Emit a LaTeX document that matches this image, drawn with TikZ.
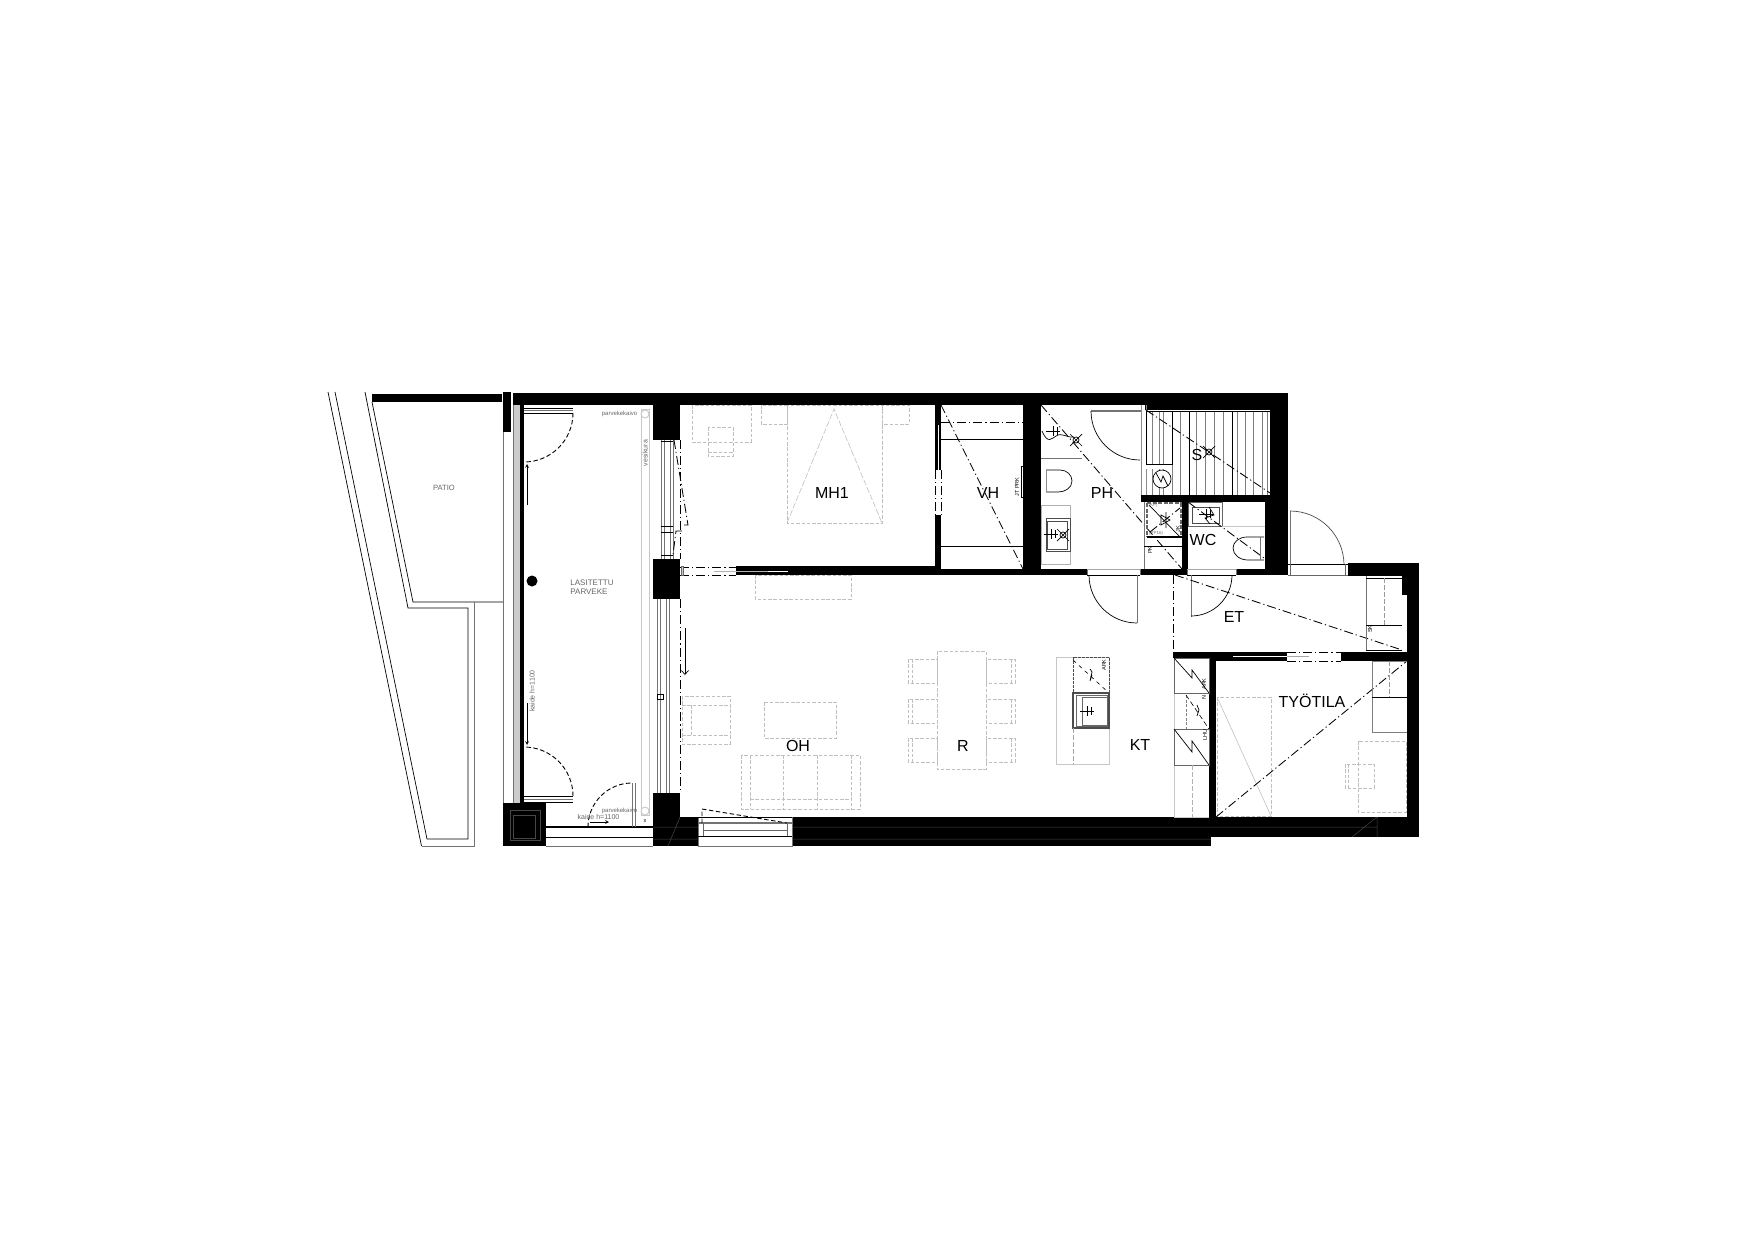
\documentclass[tikz,border=0pt]{standalone}
\usepackage{fontspec}
\setmainfont{Liberation Sans}
\usetikzlibrary{arrows.meta}
\tikzset{
  wall/.style={fill=black,draw=none},
  furn/.style={draw=black!25,line width=0.9pt,dash pattern=on 3.5pt off 1.8pt},
  swing/.style={draw=black,line width=0.9pt,dash pattern=on 4.5pt off 2.5pt},
  axisline/.style={draw=black,line width=0.85pt,dash pattern=on 9pt off 3pt on 1.2pt off 3pt},
  fine/.style={draw=black,line width=0.7pt},
  edge/.style={draw=black!55,line width=0.9pt},
  pale/.style={draw=black!22,line width=0.9pt},
  room/.style={font=\fontsize{16}{18}\selectfont,inner sep=0pt},
  note/.style={font=\fontsize{7}{8}\selectfont,text=black!60,inner sep=0pt},
  mini/.style={font=\fontsize{5.5}{6}\selectfont,inner sep=0pt}
}
\newcommand{\lampcross}[1]{\draw[fine] (#1) circle[radius=3pt] +(-6,-6) -- +(6,6) +(-6,6) -- +(6,-6);}
\newcommand{\tapmark}[1]{\draw[fine] (#1) +(-7,0) -- +(7,0) +(0,-5) -- +(0,5) +(4,-4) -- +(4,4);}
\begin{document}
\begin{tikzpicture}[x=1pt,y=-1pt]
\useasboundingbox (0,0) rectangle (1754,1240);
% patio
\draw[fine] (365,392) -- (408,608) -- (468,608) -- (468,839) -- (427,839) -- (335,392);
\draw[fine] (372,402) -- (413,602) -- (503,602);
\draw[fine] (328,392) -- (421.5,846);
\draw[edge] (421.5,846) -- (474,846) -- (474,602);
\fill[wall] (372,394) rectangle (502,402);
\node[note,font=\fontsize{7.6}{9}\selectfont] (patio) at (444,488) {PATIO};
% walls
\fill[wall] (503,392) rectangle (511,432);
\fill[wall] (513,393) rectangle (1288,405);
\fill[wall] (653,393) rectangle (680,440);
\fill[wall] (653,559) rectangle (680,599);
\fill[wall] (653,793) rectangle (680,846);
\fill[wall] (653,817) rectangle (698,846);
\fill[wall] (503,803) rectangle (546,846);
\fill[wall] (520,405) rectangle (524,803);
\fill[wall] (736,566) rectangle (935,575);
\fill[wall] (935,405) rectangle (941,470);
\fill[wall] (935,515) rectangle (941,575);
\fill[wall] (1023,405) rectangle (1041,575);
\fill[wall] (941,569) rectangle (1087,575);
\fill[wall] (1145,405) rectangle (1270,410);
\fill[wall] (1270,393) rectangle (1288,575);
\fill[wall] (1141,495) rectangle (1275,502);
\fill[wall] (1265,502) rectangle (1288,575);
\fill[wall] (1182,502) rectangle (1188,575);
\fill[wall] (1141,569) rectangle (1187,575);
\fill[wall] (1236,569) rectangle (1288,575);
\fill[wall] (1348,563) rectangle (1419,576);
\fill[wall] (1402,576) rectangle (1419,595);
\fill[wall] (1407,595) rectangle (1419,837);
\fill[wall] (1173,652) rectangle (1209,658);
\fill[wall] (1209,652) rectangle (1287,661);
\fill[wall] (1341,652) rectangle (1407,661);
\fill[wall] (1209,652) rectangle (1216,817);
\fill[wall] (792,817) rectangle (1211,846);
\fill[wall] (1211,817) rectangle (1419,837);
\draw[black!30,line width=1pt] (714,571) -- (768,571);
\draw[white,line width=1pt] (768,571) -- (788,571);
\draw[white,line width=1pt] (1233,656) -- (1287,656);
\draw[white,line width=1pt] (938,425) -- (938,470);
\draw[black!72,line width=0.5pt] (792,827) -- (1377,827) (792,839) -- (1211,839) (1377,817) -- (1377,837) (1352,837) -- (1377,817);
\draw[black!72,line width=0.5pt] (510,810) rectangle (540,840) (513,815) rectangle (535,838);
\draw[black!72,line width=0.5pt] (653,827) -- (698,827) (653,839) -- (698,839) (668,846) -- (680,817);
% balcony
\draw[edge] (503,432) -- (503,803);
\draw[edge] (513,405) -- (513,803);
\fill[black!20] (514,405) rectangle (520,803);
\draw[edge] (546,846) -- (653,846);
\draw[black,line width=2pt] (546,827) -- (653,827);
\draw[black,line width=1pt] (546,837) -- (653,837);
\draw[fine] (524,408) -- (573,408) (524,413) -- (573,413) (524,796) -- (573,796) (524,802) -- (573,802);
\draw[black!55,line width=1pt] (524,410.5) -- (573,410.5) (524,799) -- (573,799);
\draw[swing] (573,413) arc[start angle=0,end angle=-90,radius=49pt];
\draw[swing] (573,796) arc[start angle=0,end angle=90,radius=49pt];
\draw[swing] (588,827) arc[start angle=180,end angle=90,radius=44pt];
\draw[edge] (632,783) -- (632,827) (635,783) -- (635,827);
\draw[fine,-stealth] (527,505) -- (527,464);
\draw[fine,-stealth] (527,703) -- (527,745);
\draw[fine,-stealth] (590,822) -- (609,822);
\fill (532,581) circle[radius=5.5pt];
\draw[pale] (641,409) rectangle (649,815);
\draw[pale,fill=white] (645,414) circle[radius=4pt];
\draw[pale,fill=white] (645,811) circle[radius=4pt];
\node[mini,text=black!60,font=\fontsize{6}{7}\selectfont] (kaivoa) at (619.5,414) {parvekekaivo};
\node[mini,text=black!60,font=\fontsize{6}{7}\selectfont] (kaivob) at (619.5,811) {parvekekaivo};
\node[note,rotate=90] (vesi) at (645,453) {vesikura};
\node[note] (kaidea) at (598.5,817) {kaide h=1100};
\node[note,rotate=90] (kaideb) at (532,691) {kaide h=1100};
\node[mini] (xmark) at (645,821) {x};
\node[note,align=left,font=\fontsize{8}{9.5}\selectfont] (parveke) at (592,587) {LASITETTU\\PARVEKE};
% windows
\foreach \x in {661,664,670,673} \draw[black!55,line width=0.7pt] (\x,440) -- (\x,559);
\foreach \y in {441,526,532,555} \draw[fine] (661,\y) -- (673,\y);
\foreach \x in {657,660,666,669} \draw[black!55,line width=0.7pt] (\x,599) -- (\x,793);
\draw[fine] (657,694) rectangle (663,699);
\draw[axisline] (680,440) -- (680,559);
\draw[axisline] (680,599) -- (680,793);
\draw[axisline] (674,440) -- (688,525) -- (682,525);
\draw[axisline] (682,531) -- (676,531) -- (673,555);
\draw[fine,-{Straight Barb[length=4pt,width=7pt]}] (685,628) -- (685,675);
\draw[axisline] (680,567) -- (736,567);
\draw[axisline] (680,575) -- (736,575);
\draw[fill=black!20,draw=black!60] (681,566) rectangle (683,575);
\draw[axisline] (935,470) -- (935,515) (941,470) -- (941,515);
% window south
\draw[edge] (698,817) -- (698,846) -- (792,846) -- (792,817);
\draw[fine] (698,817) -- (792,817);
\draw[black!55,line width=1.2pt] (698,823) -- (792,823);
\draw[black!60,line width=0.8pt] (703,823) -- (703,836) (787,823) -- (787,836) (703,830) -- (787,830);
\draw[black,line width=0.9pt] (698,836) -- (792,836);
\draw[swing] (702,823) -- (702,809) -- (787,823);
% furniture MH1
\draw[furn] (692,405) rectangle (751,442);
\draw[furn] (708,427) rectangle (733,456) (708,452) -- (733,452);
\draw[furn] (787,405) rectangle (882,523);
\draw[furn] (761,405) rectangle (787,424) (882,405) rectangle (909,424);
\draw[black!25,line width=0.6pt,dash pattern=on 6pt off 2pt] (787,523) -- (834,409) -- (882,523);
\draw[furn] (755,575) rectangle (851,599);
% furniture OH and R
\draw[furn] (682,696) rectangle (730,744) (682,705) -- (730,705) (682,735) -- (730,735) (691,705) -- (691,735);
\draw[furn] (764,702) rectangle (836,738);
\draw[furn] (741,755) rectangle (860,809) (750,799) -- (851,799);
\foreach \x in {750,783,817,851} \draw[furn] (\x,755) -- (\x,809);
\draw[furn] (937,651) rectangle (986,769);
\foreach \y in {659,699,738} {
  \draw[furn] (908,\y) rectangle (937,\y+24) (912,\y) -- (912,\y+24);
  \draw[furn] (986,\y) rectangle (1015,\y+24) (1011,\y) -- (1011,\y+24);
}
% VH
\draw[fine] (941,439) -- (1023,439) (941,546) -- (1023,546);
\draw[axisline] (941,422) -- (1023,422);
\draw[axisline] (941,405) -- (1023,569);
\draw[fine] (941,569) -- (1023,569);
\draw[fine] (1023,466) -- (1021,466) -- (1021,497) -- (1023,497);
\node[mini,rotate=90] (jtprk) at (1017,487) {JT PRK};
% PH
\draw[axisline] (1041,405) -- (1182,569);
\draw[edge] (1041,458) -- (1082,458);
\draw[fine] (1046,470) -- (1060,470) .. controls (1067,470) and (1072,475) .. (1072,481) .. controls (1072,488) and (1065,492) .. (1058,492) -- (1046,492);
\draw[black!45,line width=0.6pt] (1046,470) -- (1046,492);
\draw[black!30,line width=1pt] (1041,505) rectangle (1070,564);
\draw[black!70,line width=0.7pt] (1046,518) rectangle (1070,551) (1047,521) rectangle (1067,549);
\tapmark{1051,534}
\lampcross{1063,535}
\lampcross{1076,440}
\tapmark{1053,431}
\draw[fine] (1042,431) .. controls (1048,445) and (1052,438) .. (1056,436) .. controls (1062,432) and (1066,438) .. (1074,437);
\draw[edge,line width=1.2pt] (1091,411) -- (1141,411);
\draw[fine] (1091,411) arc[start angle=180,end angle=270,radius=49pt];
\draw[black!45,line width=0.8pt] (1141,405) -- (1141,495) (1146,405) -- (1146,495);
\node[mini] (jkpk) at (1150,550) {\rotatebox{90}{PK}};
% sauna
\foreach \x in {1152,1159,1163,1172,1180,1196,1205,1214,1223,1232,1237,1245,1253,1262,1267}
  \draw[black!50,line width=0.6pt] (\x,411) -- (\x,495);
\draw[black,line width=0.9pt] (1189,411) -- (1189,495) (1232,411) -- (1232,495);
\fill[white] (1146,464.5) rectangle (1172,469);
\draw[fine,fill=white] (1146,411) rectangle (1172,464);
\foreach \x in {1152,1159,1163} \draw[black!50,line width=0.6pt] (\x,411) -- (\x,464);
\draw[black,line width=0.6pt] (1146,411) -- (1270,411);
\draw[fine,fill=white] (1162,479) circle[radius=9pt];
\draw[fine] (1156,473) -- (1161,482) -- (1163,476) -- (1168,486);
\lampcross{1209,452}
\draw[axisline] (1146,410) -- (1270,493);
% technical room
\draw[edge] (1144,502) -- (1144,569);
\draw[black!60,line width=1.4pt,dash pattern=on 4pt off 1.5pt] (1147,503) -- (1147,537) (1147,503) -- (1182,503) (1181,503) -- (1181,537);
\draw[black,line width=1.2pt] (1147,537) -- (1182,537);
\draw[fine] (1144,546) -- (1182,546);
\draw[fine] (1149,505) -- (1180,537);
\draw[axisline] (1150,532) -- (1180,508);
\draw[fine] (1161,515) -- (1161,525) -- (1170,520) -- cycle (1166,512) -- (1166,528);
\node[mini,text=black!55,font=\fontsize{4.5}{5}\selectfont] (kpmark) at (1153,505) {(KP)};
\node[mini,text=black!55,font=\fontsize{4.5}{5}\selectfont] (ppmark) at (1156,533) {(PP16)};
\node[mini,rotate=90] (jkmark) at (1178,529) {JK};
% WC
\draw[black!60,line width=0.8pt] (1188,502) rectangle (1222,526);
\draw[black!70,line width=0.8pt] (1192,507) rectangle (1219,523);
\tapmark{1206,514}
\draw[fine] (1209,507) -- (1214,515) -- (1205,518) -- (1210,524);
\draw[pale] (1222,526) -- (1265,526);
\draw[axisline] (1188,502) -- (1264,558);
\draw[fine] (1264,537) -- (1247,537) .. controls (1239,537) and (1233,542) .. (1233,548) .. controls (1233,555) and (1240,560) .. (1248,560) -- (1264,560);
\draw[black!55,line width=0.8pt] (1260,537) -- (1260,560);
% doors to ET
\draw[edge] (1087,569) -- (1087,575) (1140,569) -- (1140,575) (1187,569) -- (1187,575) (1236,569) -- (1236,575);
\draw[black!35,line width=0.6pt] (1087,569) -- (1140,569) (1187,569) -- (1236,569);
\draw[black,line width=0.6pt] (1087,575) -- (1140,575) (1187,575) -- (1236,575);
\draw[edge] (1137,575) -- (1137,623) (1191,575) -- (1191,617);
\draw[fine] (1089,575) arc[start angle=180,end angle=270,radius=48pt];
\draw[fine] (1232,575) arc[start angle=0,end angle=-90,radius=41pt];
\draw[edge] (1290,511) -- (1290,565);
\draw[black!70,line width=0.7pt] (1290,511) arc[start angle=90,end angle=0,radius=54pt];
\draw[black,line width=0.9pt] (1288,564) -- (1348,564);
\draw[black!60,line width=0.7pt] (1288,575) -- (1348,575) (1290,564) -- (1290,575) (1345,564) -- (1345,575);
% ET
\draw[axisline] (1173,575) -- (1173,652);
\draw[axisline] (1175,575) -- (1402,650);
\draw[edge] (1366,576) -- (1366,650);
\draw[fine] (1366,578) -- (1402,578) (1366,625) -- (1402,625) (1366,650) -- (1402,650);
\draw[black!40,line width=0.6pt,dash pattern=on 5pt off 2pt] (1384,578) -- (1384,625);
\node[mini,rotate=90] (skmark) at (1370,629) {SK};
\draw[axisline] (1287,652) -- (1341,652) (1287,661) -- (1341,661);
\draw[black!35,line width=0.6pt] (1287,656) -- (1309,656);
% kitchen
\draw[pale] (1056,657) rectangle (1109,764);
\draw[black!70,line width=0.9pt,dash pattern=on 3pt off 1pt] (1073,657) rectangle (1109,693);
\draw[black,line width=0.6pt,dash pattern=on 4pt off 4pt] (1073,660) -- (1109,693);
\draw[fine] (1090,669) -- (1092,672) -- (1090,681) -- (1092,675);
\draw[black!70,line width=1.2pt] (1073,693) rectangle (1109,728);
\draw[black!60,line width=0.8pt] (1082,697) rectangle (1107,725) (1076,695) rectangle (1107,726);
\tapmark{1087,711}
\draw[black!35,line width=0.6pt,dash pattern=on 5pt off 2pt] (1073,728) -- (1073,764);
\node[mini,rotate=90] (arkb) at (1104,665) {ARK};
\draw[pale] (1174,693) -- (1174,817);
\draw[black!60,line width=0.9pt] (1174,658) rectangle (1209,693) (1174,729) rectangle (1209,765);
\draw[fine] (1174,658) -- (1192,678) -- (1192,670) -- (1209,693);
\draw[fine] (1174,729) -- (1192,752) -- (1192,741) -- (1209,765);
\draw[black!30,line width=0.6pt,dash pattern=on 5pt off 2pt] (1192,765) -- (1192,817);
\draw[pale] (1174,817) -- (1209,817);
\draw[black!50,line width=0.6pt,dash pattern=on 3pt off 1.5pt] (1186,695) -- (1186,729);
\draw[black,line width=0.6pt,dash pattern=on 5pt off 3pt] (1186,695) -- (1209,729);
\draw[fine] (1197,705) -- (1199,710) -- (1197,716);
\node[mini,rotate=90] (arka) at (1204,684) {ARK};
\node[mini,rotate=90] (nmark) at (1204,698) {N};
\node[mini,rotate=90] (lhu) at (1205,735) {LHU};
% TYOTILA
\draw[furn] (1217,697) rectangle (1271,816);
\draw[black!25,line width=0.6pt] (1217,697) -- (1271,816);
\draw[axisline] (1216,817) -- (1407,661);
\draw[black!50,line width=0.9pt] (1407,661) -- (1372,661) -- (1372,732) -- (1407,732);
\draw[fine] (1372,697) -- (1407,697);
\draw[black!40,line width=0.6pt,dash pattern=on 5pt off 2pt] (1389,661) -- (1389,697);
\draw[furn] (1358,741) rectangle (1406,812);
\draw[furn] (1345,764) rectangle (1374,788) (1348,764) -- (1348,788);
% labels
\node[room] (mh) at (832,493) {MH1};
\node[room] (vh) at (988,493) {VH};
\node[room] (ph) at (1102,493) {PH};
\node[room] (sa) at (1197,455) {S};
\node[room] (wc) at (1203,540) {WC};
\node[room] (et) at (1234,617) {ET};
\node[room] (oh) at (798,746) {OH};
\node[room] (rr) at (963,746) {R};
\node[room] (kt) at (1140,745) {KT};
\node[room] (ty) at (1312,701) {TYÖTILA};
\end{tikzpicture}
\end{document}
